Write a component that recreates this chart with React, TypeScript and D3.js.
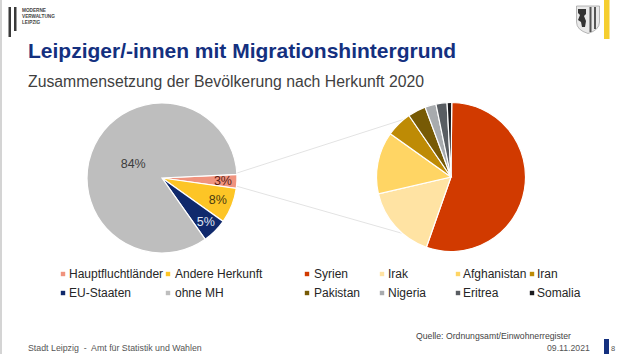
import React from "react";
import * as d3 from "d3";

const mainCategories = ["Hauptfluchtländer", "Andere Herkunft", "EU-Staaten", "ohne MH"];
const mainValues = [3, 7.6, 5.4, 84];
const mainLabels = ["3%", "8%", "5%", "84%"];
const mainColors = ["#F0937E", "#FDC526", "#10296C", "#BEBEBE"];
const mainLabelColors = ["#5a2015", "#4a3a10", "#dfe4f2", "#3c3c3c"];

const detailCategories = ["Syrien", "Irak", "Afghanistan", "Iran", "Pakistan", "Nigeria", "Eritrea", "Somalia"];
const detailValues = [55.2, 16, 13.5, 5.6, 3.9, 2.4, 2.4, 1];
const detailColors = ["#D13A00", "#FFE3A3", "#FFD564", "#BE8B05", "#775A05", "#A8ABAE", "#595D62", "#1B1B1F"];

const FONT = "'Liberation Sans', Arial, sans-serif";

const pieGen = d3.pie<number>().sort(null).value((d) => d);

function Pie({ cx, cy, r, values, colors, start, stroke }: { cx: number; cy: number; r: number; values: number[]; colors: string[]; start: number; stroke: number }) {
  const arcs = pieGen.startAngle(start).endAngle(start + Math.PI * 2)(values);
  const arc = d3.arc<d3.PieArcDatum<number>>().innerRadius(0).outerRadius(r);
  return (
    <g transform={`translate(${cx},${cy})`}>
      {arcs.map((a, i) => (
        <path key={i} d={arc(a) || ""} fill={colors[i]} stroke="#fff" strokeWidth={stroke} />
      ))}
    </g>
  );
}

export default function App() {
  const mainStart = (87.2 * Math.PI) / 180;
  const mainArcs = pieGen.startAngle(mainStart).endAngle(mainStart + Math.PI * 2)(mainValues);
  const labelArc = d3.arc<d3.PieArcDatum<number>>();
  const labelRadii = [61, 60, 62, 32];

  const legendLeftX = [[63, 69], [168, 175]];
  const legendRightX = [[307, 314], [382, 388], [458, 463], [532, 537]];
  const rows = [274, 293];

  return (
    <svg width={620} height={354} viewBox="0 0 620 354" style={{ position: "absolute", left: 0, top: 0, background: "#fff" }} fontFamily={FONT}>
      <rect x={0} y={0} width={2} height={354} fill="#d4d4d4" />
      {/* logo */}
      <rect x={8.5} y={7} width={2.5} height={30} fill="#3a3a3a" />
      <rect x={14} y={7} width={2.5} height={24} fill="#3a3a3a" />
      <g fontSize={4.7} fontWeight={700} fill="#444">
        <text x={22} y={12}>MODERNE</text>
        <text x={22} y={18}>VERWALTUNG</text>
        <text x={22} y={24}>LEIPZIG</text>
      </g>
      {/* coat of arms */}
      <path d="M576.5 6 H599.5 V22 Q599.5 30 588 33.5 Q576.5 30 576.5 22 Z" fill="#e9e9e9" stroke="#999" strokeWidth={0.7} />
      <path d="M578 9 H586 V14 L584 16 L586 21 L585 27 H582 L581 22 L578 20 L580 15 L578 13 Z" fill="#333" />
      <rect x={589.5} y={7} width={2} height={25} fill="#555" />
      <rect x={594} y={7} width={2} height={22} fill="#555" />
      <rect x={604} y={0} width={5.5} height={39} fill="#F5CE2F" />

      <text x={28} y={57.5} fontSize={21} fontWeight={700} fill="#14307F">Leipziger/-innen mit Migrationshintergrund</text>
      <text x={28} y={87} fontSize={15.8} fill="#3f3f3f">Zusammensetzung der Bevölkerung nach Herkunft 2020</text>

      <line x1={237} y1={173} x2={408} y2={118} stroke="#e3e3e3" strokeWidth={1} />
      <line x1={236} y1={186} x2={408} y2={235} stroke="#e3e3e3" strokeWidth={1} />

      <Pie cx={162} cy={178} r={75} values={mainValues} colors={mainColors} start={mainStart} stroke={1.2} />
      <g fontSize={12.5} textAnchor="middle" dominantBaseline="central">
        {mainArcs.map((a, i) => {
          const r = labelRadii[i];
          const [x, y] = labelArc.centroid({ ...a, innerRadius: r, outerRadius: r } as any);
          return (
            <text key={i} x={162 + x} y={178 + y} fill={mainLabelColors[i]}>{mainLabels[i]}</text>
          );
        })}
      </g>

      <Pie cx={451} cy={177} r={74.5} values={detailValues} colors={detailColors} start={0.01} stroke={1.2} />

      <g fontSize={12} fill="#262626">
        {mainCategories.map((name, i) => {
          const col = legendLeftX[i % 2];
          const y = rows[Math.floor(i / 2)];
          return (
            <g key={name}>
              <rect x={col[0] - 2.2} y={y - 2.2} width={4.4} height={4.4} fill={mainColors[i]} />
              <text x={col[1]} y={y + 4.3}>{name}</text>
            </g>
          );
        })}
        {detailCategories.map((name, i) => {
          const col = legendRightX[i % 4];
          const y = rows[Math.floor(i / 4)];
          return (
            <g key={name}>
              <rect x={col[0] - 2.2} y={y - 2.2} width={4.4} height={4.4} fill={detailColors[i]} />
              <text x={col[1]} y={y + 4.3}>{name}</text>
            </g>
          );
        })}
      </g>

      <text x={416} y={339} fontSize={8.7} fill="#444">Quelle: Ordnungsamt/Einwohnerregister</text>
      <text x={28} y={351} fontSize={8.8} fill="#555">{"Stadt Leipzig\u00A0 -\u00A0 Amt für Statistik und Wahlen"}</text>
      <text x={547} y={351} fontSize={8.7} fill="#555">09.11.2021</text>
      <rect x={604} y={339} width={5} height={15} fill="#14307F" />
      <text x={611} y={351} fontSize={7.5} fill="#555">8</text>
    </svg>
  );
}
